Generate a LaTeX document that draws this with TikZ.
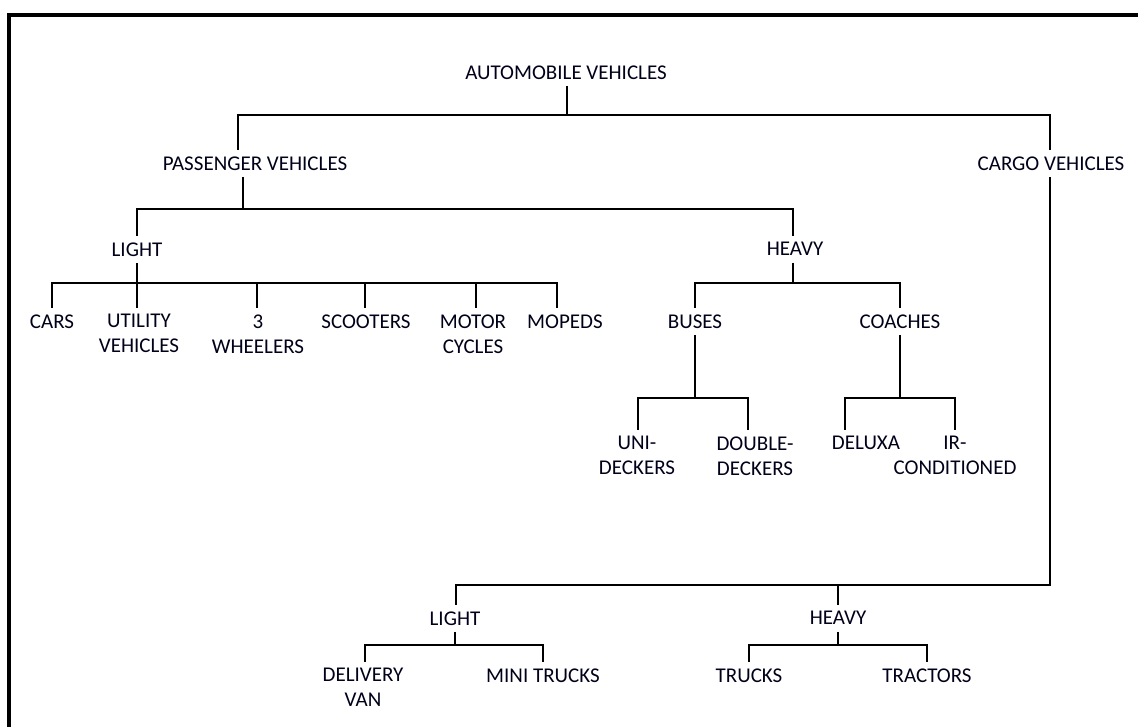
\documentclass[tikz,border=0pt]{standalone}
\usepackage{fontspec}
\setmainfont{Carlito}
\begin{document}
\begin{tikzpicture}[x=1pt,y=-1pt,
  lbl/.style={anchor=north,inner xsep=1pt,inner ysep=6.5pt,align=center,
    font=\fontsize{21}{25}\selectfont,text=black!90!blue},
  edge/.style={line width=2.2pt,black},
  frame/.style={line width=4pt,black}]
\useasboundingbox (0,0) rectangle (1138,727);
\draw[frame] (8.7,727) -- (8.7,15.3) -- (1138,15.3);
% nodes: (x, first-line centre - 13.25)
\node[lbl] (auto) at (566,58.75) {AUTOMOBILE VEHICLES};
\node[lbl] (pass) at (255,149.75) {PASSENGER VEHICLES};
\node[lbl] (cargo) at (1051,149.75) {CARGO VEHICLES};
\node[lbl] (plight) at (137,235.75) {LIGHT};
\node[lbl] (pheavy) at (795,235.75) {HEAVY};
\node[lbl] (cars) at (52,307.75) {CARS};
\node[lbl] (util) at (139,307.75) {UTILITY\\VEHICLES};
\node[lbl] (three) at (258,307.75) {3\\WHEELERS};
\node[lbl] (scoot) at (366,307.75) {SCOOTERS};
\node[lbl] (motor) at (473,307.75) {MOTOR\\CYCLES};
\node[lbl] (mopeds) at (565,307.75) {MOPEDS};
\node[lbl] (buses) at (695,307.75) {BUSES};
\node[lbl] (coaches) at (900,307.75) {COACHES};
\node[lbl] (uni) at (637,429.75) {UNI-\\DECKERS};
\node[lbl] (dd) at (755,429.75) {DOUBLE-\\DECKERS};
\node[lbl] (deluxa) at (866,429.75) {DELUXA};
\node[lbl] (ir) at (955,429.75) {IR-\\CONDITIONED};
\node[lbl] (clight) at (455,604.75) {LIGHT};
\node[lbl] (cheavy) at (838,604.75) {HEAVY};
\node[lbl] (dv) at (363,661.75) {DELIVERY\\VAN};
\node[lbl] (mini) at (543,661.75) {MINI TRUCKS};
\node[lbl] (trucks) at (749,661.75) {TRUCKS};
\node[lbl] (tractors) at (927,661.75) {TRACTORS};
% bus points
\coordinate (b0) at (567,115);
\coordinate (b1) at (243,209);
\coordinate (b2) at (137,283);
\coordinate (b3) at (793,283);
\coordinate (b4) at (695,398);
\coordinate (b5) at (900,398);
\coordinate (b6) at (1050,585);
\coordinate (b7) at (455,645);
\coordinate (b8) at (838,645);
% root
\draw[edge] (auto.south -| b0) -- (b0);
\draw[edge] ([xshift=-17pt]pass.north) |- (b0) -| ([xshift=-1pt]cargo.north);
% passenger
\draw[edge] ([xshift=-12pt]pass.south) -- (b1);
\draw[edge] (plight.north) |- (b1) -| ([xshift=-2pt]pheavy.north);
% light passenger
\draw[edge] (plight.south) -- (b2);
\draw[edge] (cars.north) |- (b2) -| ([xshift=-8pt]mopeds.north);
\draw[edge] (b2) -- ([xshift=-2pt]util.north);
\draw[edge] ([xshift=-1pt]three.north |- b2) -- ([xshift=-1pt]three.north);
\draw[edge] ([xshift=-1pt]scoot.north |- b2) -- ([xshift=-1pt]scoot.north);
\draw[edge] ([xshift=3pt]motor.north |- b2) -- ([xshift=3pt]motor.north);
% heavy passenger
\draw[edge] ([xshift=-2pt]pheavy.south) -- (b3);
\draw[edge] (buses.north) |- (b3) -| (coaches.north);
\draw[edge] (buses.south) -- (b4);
\draw[edge] ([xshift=1pt]uni.north) |- (b4) -| ([xshift=-7pt]dd.north);
\draw[edge] (coaches.south) -- (b5);
\draw[edge] ([xshift=-21pt]deluxa.north) |- (b5) -| (ir.north);
% cargo
\draw[edge] ([xshift=-1pt]cargo.south) -- (b6) -| ([xshift=1pt]clight.north);
\draw[edge] (cheavy.north |- b6) -- (cheavy.north);
\draw[edge] (clight.south) -- (b7);
\draw[edge] ([xshift=2pt]dv.north) |- (b7) -| (mini.north);
\draw[edge] (cheavy.south) -- (b8);
\draw[edge] (trucks.north) |- (b8) -| (tractors.north);
\end{tikzpicture}
\end{document}
